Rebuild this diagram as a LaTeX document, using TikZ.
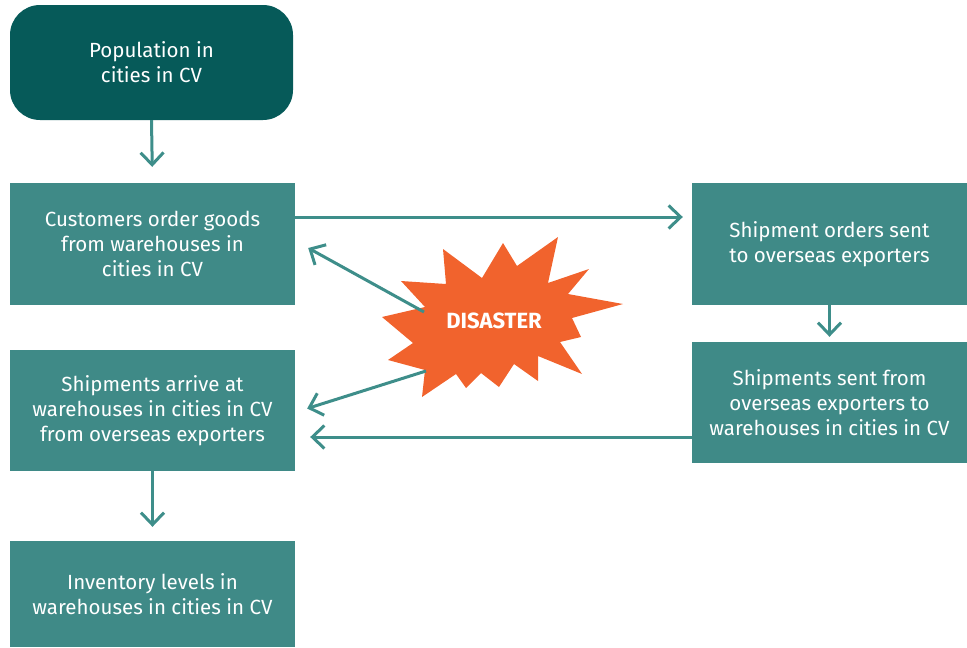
\documentclass[tikz,border=0pt]{standalone}
\usepackage{fontspec}
\setmainfont{Fira Sans}
\usetikzlibrary{arrows.meta,calc}
\definecolor{deepteal}{HTML}{065A59}
\definecolor{boxteal}{HTML}{3F8A87}
\definecolor{lineteal}{HTML}{3E8E8A}
\definecolor{burst}{HTML}{F1632D}
\begin{document}
\begin{tikzpicture}[x=1pt,y=-1pt,
  flowbox/.style={fill=boxteal,text=white,align=center,inner sep=0pt,
    font=\fontsize{20.5}{25}\selectfont},
  startbox/.style={flowbox,fill=deepteal,rounded corners=30pt},
  arr/.style={draw=lineteal,line width=3pt,
    -{Straight Barb[length=12pt,width=23pt,line width=3pt]}}]
\useasboundingbox (0,0) rectangle (967,648);

% boxes
\node[startbox,minimum width=283pt,minimum height=115pt] (pop) at (151.5,62.5) {Population in\\cities in CV};
\node[flowbox,minimum width=285pt,minimum height=122pt] (cust) at (152.5,244) {Customers order goods\\from warehouses in\\cities in CV};
\node[flowbox,minimum width=285pt,minimum height=121pt] (arrive) at (152.5,410.5) {Shipments arrive at\\warehouses in cities in CV\\from overseas exporters};
\node[flowbox,minimum width=285pt,minimum height=106pt] (inv) at (152.5,594) {Inventory levels in\\warehouses in cities in CV};
\node[flowbox,minimum width=275pt,minimum height=122pt] (ord) at (829.5,244) {Shipment orders sent\\to overseas exporters};
\node[flowbox,minimum width=275pt,minimum height=121pt] (sent) at (829.5,402.5) {Shipments sent from\\overseas exporters to\\warehouses in cities in CV};

% burst
\fill[burst] (443,249) -- (482,278) -- (503,243) -- (517,266) -- (558,237)
  -- (548,283) -- (589,269) -- (568,294) -- (623,304) -- (572,318)
  -- (581,337) -- (560,342) -- (582,374) -- (538,356) -- (538,381)
  -- (514,364) -- (499,387) -- (481,373) -- (466,388) -- (456,374)
  -- (422,397) -- (425,370) -- (388,360) -- (413,343) -- (382,317)
  -- (425,307) -- (401,281) -- (446,284) -- cycle;
\node[text=white,font=\fontsize{22}{24}\selectfont\bfseries] (dis) at (494,321) {DISASTER};
\coordinate (d1) at (424,312);
\coordinate (d2) at (426,371);

% connectors
\draw[arr,shorten >=16pt] (pop.south) -- (cust.north);
\draw[arr,shorten >=9pt] ($(cust.east)+(0,-27)$) -- ($(ord.west)+(0,-27)$);
\draw[arr,shorten >=5pt] (ord.south) -- (sent.north);
\draw[arr,shorten >=15pt] ($(sent.west)+(0,34.5)$) -- ($(arrive.east)+(0,26.5)$);
\draw[arr,shorten >=14pt] (arrive.south) -- (inv.north);
\draw[arr] (d1) -- ($(cust.east)+(13,4)$);
\draw[arr] (d2) -- ($(arrive.east)+(12,-2)$);
\end{tikzpicture}
\end{document}
